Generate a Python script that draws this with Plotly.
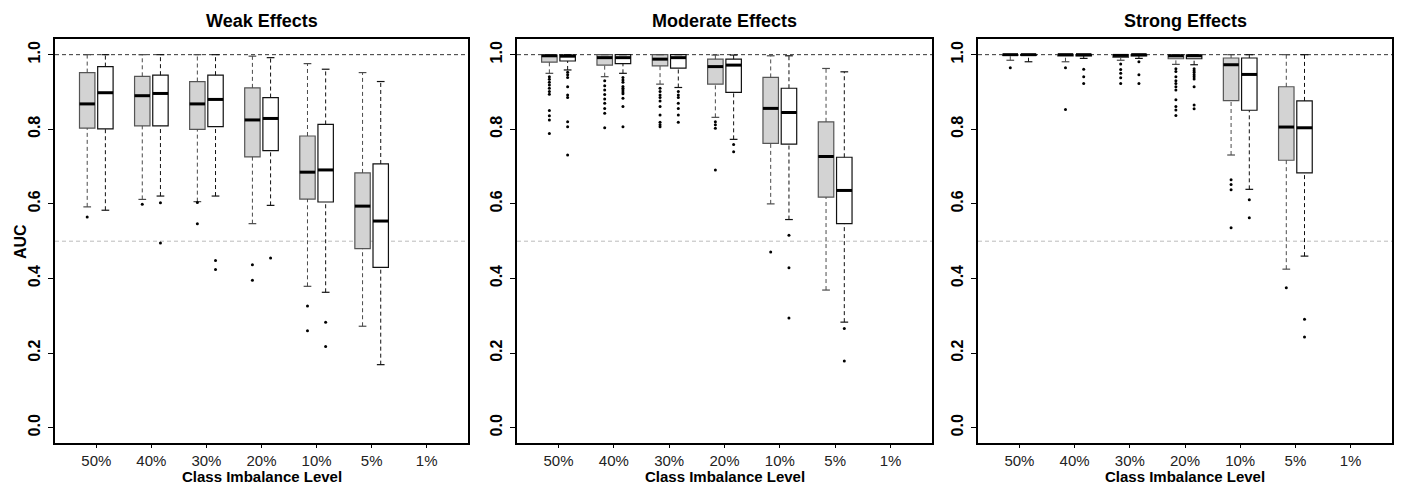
import plotly.graph_objects as go

# ---------------- data ----------------
categories = ["50%", "40%", "30%", "20%", "10%", "5%", "1%"]
panel_titles = ["Weak Effects", "Moderate Effects", "Strong Effects"]
y_ticks = [0.0, 0.2, 0.4, 0.6, 0.8, 1.0]
y_tick_labels = ["0.0", "0.2", "0.4", "0.6", "0.8", "1.0"]

# five-number summaries per category: [lower whisker, q1, median, q3, upper whisker]; None = no data
weak_grey_stats = [
    [0.592, 0.803, 0.868, 0.952, 1.000],
    [0.612, 0.809, 0.890, 0.942, 1.000],
    [0.606, 0.800, 0.868, 0.928, 1.000],
    [0.547, 0.726, 0.825, 0.911, 0.996],
    [0.379, 0.613, 0.685, 0.782, 0.976],
    [0.272, 0.480, 0.594, 0.683, 0.952],
    None,
]
weak_grey_out = [[0.565], [0.599], [0.604, 0.547], [0.437, 0.395], [0.326, 0.260], [], []]

weak_white_stats = [
    [0.583, 0.801, 0.898, 0.968, 1.000],
    [0.621, 0.809, 0.896, 0.945, 1.000],
    [0.621, 0.807, 0.880, 0.945, 1.000],
    [0.596, 0.743, 0.829, 0.885, 0.992],
    [0.363, 0.605, 0.691, 0.813, 0.961],
    [0.169, 0.430, 0.554, 0.707, 0.928],
    None,
]
weak_white_out = [[], [0.603, 0.495], [0.448, 0.424], [0.455], [0.283, 0.218], [], []]

moderate_grey_stats = [
    [0.950, 0.980, 0.997, 0.999, 1.000],
    [0.941, 0.972, 0.992, 1.000, 1.000],
    [0.921, 0.970, 0.988, 1.000, 1.000],
    [0.832, 0.921, 0.968, 0.988, 0.999],
    [0.600, 0.762, 0.856, 0.939, 0.997],
    [0.369, 0.618, 0.727, 0.820, 0.963],
    None,
]
moderate_grey_out = [
    [0.941, 0.934, 0.926, 0.919, 0.910, 0.901, 0.894, 0.850, 0.836, 0.825, 0.789],
    [0.930, 0.917, 0.905, 0.893, 0.881, 0.870, 0.856, 0.843, 0.804],
    [0.910, 0.901, 0.892, 0.885, 0.876, 0.861, 0.838, 0.819, 0.812, 0.807],
    [0.820, 0.812, 0.803, 0.691],
    [0.471],
    [],
    [],
]

moderate_white_stats = [
    [0.959, 0.983, 0.996, 0.999, 1.000],
    [0.950, 0.976, 0.992, 1.000, 1.000],
    [0.912, 0.964, 0.992, 1.000, 1.000],
    [0.773, 0.899, 0.972, 0.988, 0.999],
    [0.558, 0.760, 0.845, 0.910, 0.997],
    [0.283, 0.547, 0.636, 0.725, 0.954],
    None,
]
moderate_white_out = [
    [0.953, 0.946, 0.939, 0.914, 0.892, 0.885, 0.820, 0.807, 0.731],
    [0.939, 0.932, 0.926, 0.915, 0.910, 0.905, 0.900, 0.895, 0.883, 0.861, 0.807],
    [0.901, 0.892, 0.885, 0.870, 0.856, 0.838, 0.819],
    [0.759, 0.740],
    [0.516, 0.429, 0.294],
    [0.266, 0.179],
    [],
]

strong_grey_stats = [
    [0.985, 0.998, 1.000, 1.000, 1.000],
    [0.981, 0.997, 1.000, 1.000, 1.000],
    [0.985, 0.993, 0.998, 1.000, 1.000],
    [0.974, 0.989, 0.997, 0.999, 1.000],
    [0.731, 0.877, 0.973, 0.991, 1.000],
    [0.425, 0.717, 0.806, 0.914, 1.000],
    None,
]
strong_grey_out = [
    [0.965],
    [0.965, 0.853],
    [0.975, 0.960, 0.950, 0.938, 0.923],
    [0.962, 0.955, 0.941, 0.930, 0.923, 0.914, 0.905, 0.879, 0.861, 0.852, 0.837],
    [0.665, 0.652, 0.638, 0.536],
    [0.375],
    [],
]

strong_white_stats = [
    [0.981, 0.998, 1.000, 1.000, 1.000],
    [0.990, 0.997, 1.000, 1.000, 1.000],
    [0.990, 0.997, 1.000, 1.000, 1.000],
    [0.973, 0.989, 0.997, 0.999, 1.000],
    [0.639, 0.851, 0.947, 0.991, 1.000],
    [0.460, 0.683, 0.804, 0.876, 1.000],
    None,
]
strong_white_out = [
    [],
    [0.961, 0.941, 0.923],
    [0.981, 0.946, 0.923],
    [0.962, 0.957, 0.952, 0.946, 0.941, 0.935, 0.914, 0.865, 0.855],
    [0.611, 0.563],
    [0.291, 0.243],
    [],
]

panels = [
    (weak_grey_stats, weak_grey_out, weak_white_stats, weak_white_out),
    (moderate_grey_stats, moderate_grey_out, moderate_white_stats, moderate_white_out),
    (strong_grey_stats, strong_grey_out, strong_white_stats, strong_white_out),
]

# ---------------- styling / layout ----------------
W, H = 1401, 484
FONT = "Liberation Sans, Arial, Helvetica, sans-serif"
x_domains_px = [(55, 468), (517, 932), (978, 1392)]
plot_top_px, plot_bot_px = 39, 443
OFFSET = 0.165
BOX_W = 0.28
CAP_HALF = 0.07

series_style = {
    "grey": dict(fill="#d3d3d3", edge="#555555", whisker="#4a4a4a", offset=-OFFSET),
    "white": dict(fill="#ffffff", edge="#111111", whisker="#111111", offset=OFFSET),
}

fig = go.Figure()


def add_series(stats, outs, style, xa, ya):
    xs, q1, med, q3 = [], [], [], []
    wx, wy, cx, cy, mx, my, ox, oy = [], [], [], [], [], [], [], []
    for i, s in enumerate(stats):
        pos = i + 1 + style["offset"]
        for v in outs[i]:
            ox.append(pos)
            oy.append(v)
        if s is None:
            continue
        lo, a, m, b, hi = s
        xs.append(pos); q1.append(a); med.append(m); q3.append(b)
        wx += [pos, pos, None, pos, pos, None]
        wy += [b, hi, None, lo, a, None]
        cx += [pos - CAP_HALF, pos + CAP_HALF, None, pos - CAP_HALF, pos + CAP_HALF, None]
        cy += [hi, hi, None, lo, lo, None]
        mx += [pos - BOX_W / 2, pos + BOX_W / 2, None]
        my += [m, m, None]
    fig.add_trace(go.Scatter(x=wx, y=wy, mode="lines", xaxis=xa, yaxis=ya,
                             line=dict(color=style["whisker"], width=1, dash="4px,3px"),
                             hoverinfo="skip", showlegend=False))
    fig.add_trace(go.Scatter(x=cx, y=cy, mode="lines", xaxis=xa, yaxis=ya,
                             line=dict(color=style["whisker"], width=1.2),
                             hoverinfo="skip", showlegend=False))
    fig.add_trace(go.Box(x=xs, q1=q1, median=med, q3=q3, lowerfence=q1, upperfence=q3,
                         width=BOX_W, fillcolor=style["fill"],
                         line=dict(color=style["edge"], width=1.2), whiskerwidth=0,
                         boxpoints=False, xaxis=xa, yaxis=ya, hoverinfo="skip",
                         showlegend=False))
    fig.add_trace(go.Scatter(x=mx, y=my, mode="lines", xaxis=xa, yaxis=ya,
                             line=dict(color="black", width=3),
                             hoverinfo="skip", showlegend=False))
    fig.add_trace(go.Scatter(x=ox, y=oy, mode="markers", xaxis=xa, yaxis=ya,
                             marker=dict(color="black", size=3),
                             hoverinfo="skip", showlegend=False))


y_dom = [1 - plot_bot_px / H, 1 - plot_top_px / H]
annotations = []
shapes = []
for k, (gs, go_, ws, wo) in enumerate(panels):
    idx = "" if k == 0 else str(k + 1)
    xa, ya = "x" + idx, "y" + idx
    for yv, col in [(1.0, "#333333"), (0.5, "#bbbbbb")]:
        shapes.append(dict(type="line", xref=f"{xa} domain", yref=ya, x0=0, x1=1, y0=yv, y1=yv,
                           line=dict(color=col, width=1, dash="4px,3px"), layer="below"))
    add_series(gs, go_, series_style["grey"], xa, ya)
    add_series(ws, wo, series_style["white"], xa, ya)

    x0, x1 = x_domains_px[k]
    dom = [x0 / W, x1 / W]
    fig.update_layout({
        f"xaxis{idx}": dict(domain=dom, range=[0.25, 7.75], tickvals=list(range(1, 8)),
                            ticktext=categories, ticks="outside", ticklen=3, tickwidth=1,
                            tickcolor="black", showline=True, mirror=True, linecolor="black",
                            linewidth=1.5, showgrid=False, zeroline=False, anchor=ya,
                            ticklabelstandoff=0,
                            tickfont=dict(family=FONT, size=15, color="#222222")),
        f"yaxis{idx}": dict(domain=y_dom, range=[-0.041, 1.042], tickvals=y_ticks,
                            ticktext=y_tick_labels, tickangle=-90, ticks="outside", ticklen=5,
                            tickwidth=1, tickcolor="black", showline=True, mirror=True,
                            linecolor="black", linewidth=1.5, showgrid=False, zeroline=False,
                            anchor=xa, ticklabelstandoff=2,
                            tickfont=dict(family=FONT, size=16, color="black", weight="bold")),
    })
    cx_paper = (x0 + x1) / 2 / W
    annotations.append(dict(text=f"<b>{panel_titles[k]}</b>", x=cx_paper, y=1 - 21.5 / H,
                            xref="paper", yref="paper", showarrow=False,
                            font=dict(family=FONT, size=18, color="black"),
                            xanchor="center", yanchor="middle"))
    annotations.append(dict(text="<b>Class Imbalance Level</b>", x=cx_paper, y=1 - 476 / H,
                            xref="paper", yref="paper", showarrow=False,
                            font=dict(family=FONT, size=15, color="black"),
                            xanchor="center", yanchor="middle"))

annotations.append(dict(text="<b>AUC</b>", x=20 / W, y=1 - 242 / H, xref="paper", yref="paper",
                        showarrow=False, textangle=-90,
                        font=dict(family=FONT, size=16, color="black"),
                        xanchor="center", yanchor="middle"))

fig.update_layout(width=W, height=H, margin=dict(l=0, r=0, t=0, b=0),
                  plot_bgcolor="white", paper_bgcolor="white", showlegend=False,
                  boxmode="overlay", annotations=annotations, shapes=shapes)

fig.write_html("out.html", config={"displayModeBar": False},
               post_script="document.body.style.margin='0';document.body.style.overflow='hidden';")
